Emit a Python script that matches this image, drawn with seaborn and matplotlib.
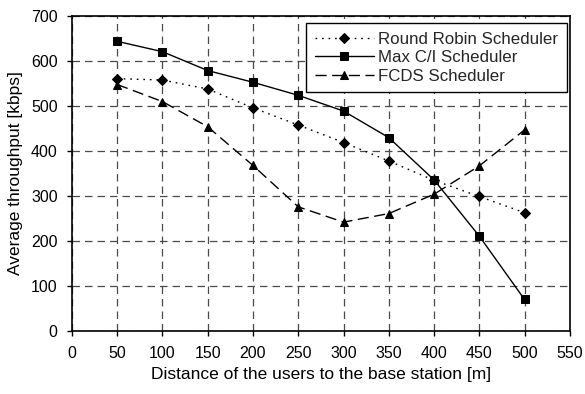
import matplotlib
matplotlib.use("Agg")
import matplotlib.pyplot as plt
import seaborn as sns
import pandas as pd

distance = [50, 100, 150, 200, 250, 300, 350, 400, 450, 500]
round_robin = [561, 558, 538, 496, 458, 419, 378, 335, 299, 263]
max_ci = [644, 621, 579, 553, 524, 489, 430, 336, 211, 70]
fcds = [548, 510, 454, 368, 276, 242, 261, 304, 367, 447]
series_names = ["Round Robin Scheduler", "Max C/I Scheduler", "FCDS Scheduler"]
x_ticks = list(range(0, 551, 50))
y_ticks = list(range(0, 701, 100))

df = pd.DataFrame({
    "x": distance * 3,
    "y": round_robin + max_ci + fcds,
    "series": [series_names[0]] * 10 + [series_names[1]] * 10 + [series_names[2]] * 10,
})

sns.set_theme(style="white")
plt.rcParams['font.family'] = ['Liberation Sans', 'DejaVu Sans']

fig = plt.figure(figsize=(5.85, 3.94), dpi=100)
ax = fig.add_axes([0.123, 0.160, 0.851, 0.799])

sns.lineplot(
    data=df, x="x", y="y", style="series", color="black",
    markers={series_names[0]: "D", series_names[1]: "s", series_names[2]: "^"},
    dashes={series_names[0]: (1.2, 3.5), series_names[1]: "", series_names[2]: (8, 4)},
    style_order=series_names, markersize=5.5, linewidth=1.0,
    markeredgecolor="black", ax=ax, legend=True,
)
for line in ax.lines:
    if line.get_marker() == "^":
        line.set_markersize(6.2)

ax.set_xlim(0, 550)
ax.set_ylim(0, 700)
ax.set_xticks(x_ticks)
ax.set_yticks(y_ticks)
ax.grid(True, color="#4a4a4a", linestyle=(0, (6, 4)), linewidth=0.9)
for sp in ax.spines.values():
    sp.set_visible(True)
    sp.set_color("black")
    sp.set_linewidth(1.2)
ax.tick_params(axis="both", direction="out", length=3.8, width=1, colors="black",
               labelsize=11.5, bottom=True, left=True)
ax.tick_params(axis="x", pad=7)
ax.tick_params(axis="y", pad=6.5)
ax.set_xlabel("Distance of the users to the base station [m]", fontsize=12.5,
              color="black", labelpad=4)
ax.set_ylabel("Average throughput [kbps]", fontsize=12.5, color="black", labelpad=6)

leg = ax.legend(loc="upper right", bbox_to_anchor=(0.994, 0.978), fontsize=12.2,
                frameon=True, fancybox=False, edgecolor="black", framealpha=1,
                handlelength=3.5, handletextpad=0.25, borderpad=0.5, labelspacing=0.22,
                borderaxespad=0)
leg.get_frame().set_linewidth(1.0)

fig.savefig("out.png", dpi=100)
